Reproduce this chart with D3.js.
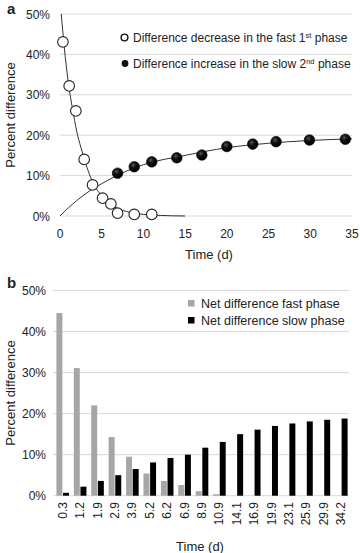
<!DOCTYPE html>
<html>
<head>
<meta charset="utf-8">
<title>Percent difference</title>
<script src="https://cdn.jsdelivr.net/npm/d3@7"></script>
<style>
  body { margin: 0; background: #fff; }
  text { font-family: "Liberation Sans", Arial, sans-serif; fill: #222; }
</style>
</head>
<body>
<svg id="svg"></svg>
<script>
var WIDTH = 360, HEIGHT = 553;

// panel a: measured points
var fastT = [0.35, 1.1, 1.9, 2.9, 3.9, 5.1, 6.1, 6.9, 8.9, 11];
var fastV = [0.431, 0.322, 0.26, 0.14, 0.077, 0.044, 0.03, 0.007, 0.004, 0.004];
var slowT = [6.9, 8.9, 11, 14, 17, 20, 23.1, 25.9, 29.9, 34.2];
var slowV = [0.106, 0.122, 0.134, 0.144, 0.151, 0.172, 0.178, 0.184, 0.188, 0.19];

// panel a: trend curves
var fastCurveT = [0.15, 0.5, 1, 1.5, 2, 2.5, 3, 4, 5, 6, 7, 8, 10, 12, 15];
var fastCurveV = [0.50, 0.42, 0.33, 0.265, 0.21, 0.17, 0.135, 0.08, 0.05, 0.03, 0.018, 0.011, 0.004, 0.0015, 0];
var slowCurveT = [0, 1, 2, 3, 4, 5, 7, 10, 15, 20, 25, 30, 35];
var slowCurveV = [0, 0.02, 0.038, 0.054, 0.068, 0.08, 0.102, 0.127, 0.15, 0.169, 0.18, 0.187, 0.191];

var xTicksA = [0, 5, 10, 15, 20, 25, 30, 35];
var yTicks = [0, 0.1, 0.2, 0.3, 0.4, 0.5];

// panel b: bars
var times = ["0.3","1.2","1.9","2.9","3.9","5.2","6.2","6.9","8.9","10.9","14.1","16.9","19.9","23.1","25.9","29.9","34.2"];
var netFast = [0.445, 0.311, 0.22, 0.143, 0.095, 0.054, 0.036, 0.026, 0.011, 0.0035, 0, 0, 0, 0, 0, 0, 0];
var netSlow = [0.007, 0.022, 0.036, 0.05, 0.065, 0.081, 0.092, 0.10, 0.117, 0.131, 0.15, 0.161, 0.17, 0.176, 0.181, 0.185, 0.188];

var svg = d3.select("#svg").attr("width", WIDTH).attr("height", HEIGHT);

var defs = svg.append("defs");
var grad = defs.append("radialGradient").attr("id", "ball")
    .attr("cx", "40%").attr("cy", "35%").attr("r", "60%");
grad.append("stop").attr("offset", "0%").attr("stop-color", "#555");
grad.append("stop").attr("offset", "45%").attr("stop-color", "#111");
grad.append("stop").attr("offset", "100%").attr("stop-color", "#000");

// ---------- panel a ----------
var xA = d3.scaleLinear().domain([0, 35]).range([60, 352]);
var yA = d3.scaleLinear().domain([0, 0.5]).range([216, 14]);

var gA = svg.append("g");
gA.selectAll("line.grid").data(yTicks).enter().append("line")
  .attr("x1", xA(0)).attr("x2", xA(35))
  .attr("y1", function(d){ return yA(d); }).attr("y2", function(d){ return yA(d); })
  .attr("stroke", "#d9d9d9").attr("stroke-width", 1);

gA.selectAll("text.ytick").data(yTicks).enter().append("text")
  .attr("x", 50).attr("y", function(d){ return yA(d) + 4.5; })
  .attr("text-anchor", "end").attr("font-size", "12px")
  .text(d3.format(".0%"));

gA.selectAll("text.xtick").data(xTicksA).enter().append("text")
  .attr("x", function(d){ return xA(d); }).attr("y", 238)
  .attr("text-anchor", "middle").attr("font-size", "12px")
  .text(function(d){ return d; });

gA.append("text").attr("x", 209).attr("y", 259).attr("text-anchor", "middle")
  .attr("font-size", "13px").text("Time (d)");
gA.append("text").attr("transform", "translate(15,115) rotate(-90)")
  .attr("text-anchor", "middle").attr("font-size", "13px").text("Percent difference");
gA.append("text").attr("x", 7).attr("y", 14).attr("font-size", "15px")
  .attr("font-weight", "bold").text("a");

var line = d3.line()
  .x(function(d){ return xA(d[0]); })
  .y(function(d){ return yA(d[1]); })
  .curve(d3.curveMonotoneX);

gA.append("path").datum(d3.zip(fastCurveT, fastCurveV)).attr("d", line)
  .attr("fill", "none").attr("stroke", "#333").attr("stroke-width", 1);
gA.append("path").datum(d3.zip(slowCurveT, slowCurveV)).attr("d", line)
  .attr("fill", "none").attr("stroke", "#333").attr("stroke-width", 1);

gA.selectAll("circle.slow").data(d3.zip(slowT, slowV)).enter().append("circle")
  .attr("cx", function(d){ return xA(d[0]); }).attr("cy", function(d){ return yA(d[1]); })
  .attr("r", 5.3).attr("fill", "url(#ball)").attr("stroke", "#000").attr("stroke-width", 0.6);

gA.selectAll("circle.fast").data(d3.zip(fastT, fastV)).enter().append("circle")
  .attr("cx", function(d){ return xA(d[0]); }).attr("cy", function(d){ return yA(d[1]); })
  .attr("r", 5.3).attr("fill", "#fff").attr("stroke", "#222").attr("stroke-width", 1.1);

// legend a
var legA = gA.append("g").attr("font-size", "12px");
legA.append("circle").attr("cx", 124.5).attr("cy", 37.5).attr("r", 3.4)
  .attr("fill", "#fff").attr("stroke", "#111").attr("stroke-width", 1.4);
legA.append("circle").attr("cx", 125).attr("cy", 63.5).attr("r", 3.4).attr("fill", "#111");
var t1 = legA.append("text").attr("x", 133).attr("y", 42);
t1.append("tspan").text("Difference decrease in the fast 1");
t1.append("tspan").attr("font-size", "7.5px").attr("dy", -4).text("st");
t1.append("tspan").attr("dy", 4).text(" phase");
var t2 = legA.append("text").attr("x", 133).attr("y", 68);
t2.append("tspan").text("Difference increase in the slow 2");
t2.append("tspan").attr("font-size", "7.5px").attr("dy", -4).text("nd");
t2.append("tspan").attr("dy", 4).text(" phase");

// ---------- panel b ----------
var yB = d3.scaleLinear().domain([0, 0.5]).range([495.7, 290.5]);
var x0 = d3.scaleBand().domain(times).range([54, 350]).paddingInner(0.2).paddingOuter(0.1);
var x1 = d3.scaleBand().domain(["fast", "slow"]).range([0, x0.bandwidth()]).padding(0.1);

var gB = svg.append("g");
gB.selectAll("line.grid").data(yTicks).enter().append("line")
  .attr("x1", 53).attr("x2", 349)
  .attr("y1", function(d){ return yB(d); }).attr("y2", function(d){ return yB(d); })
  .attr("stroke", "#d9d9d9").attr("stroke-width", 1);

gB.selectAll("text.ytick").data(yTicks).enter().append("text")
  .attr("x", 46).attr("y", function(d){ return yB(d) + 4.5; })
  .attr("text-anchor", "end").attr("font-size", "12px")
  .text(d3.format(".0%"));

var rows = times.map(function(t, i){ return { t: t, fast: netFast[i], slow: netSlow[i] }; });
var grp = gB.selectAll("g.cat").data(rows).enter().append("g")
  .attr("transform", function(d){ return "translate(" + x0(d.t) + ",0)"; });
grp.append("rect").attr("x", x1("fast")).attr("width", x1.bandwidth())
  .attr("y", function(d){ return yB(d.fast); })
  .attr("height", function(d){ return yB(0) - yB(d.fast); })
  .attr("fill", "#a6a6a6");
grp.append("rect").attr("x", x1("slow")).attr("width", x1.bandwidth())
  .attr("y", function(d){ return yB(d.slow); })
  .attr("height", function(d){ return yB(0) - yB(d.slow); })
  .attr("fill", "#000");

gB.selectAll("text.xtick").data(times).enter().append("text")
  .attr("transform", function(d){
    return "translate(" + (x0(d) + x0.bandwidth() / 2 + 4) + ",502) rotate(-90)";
  })
  .attr("text-anchor", "end").attr("font-size", "12px")
  .text(function(d){ return d; });

gB.append("text").attr("x", 200).attr("y", 551).attr("text-anchor", "middle")
  .attr("font-size", "13px").text("Time (d)");
gB.append("text").attr("transform", "translate(15,393) rotate(-90)")
  .attr("text-anchor", "middle").attr("font-size", "13px").text("Percent difference");
gB.append("text").attr("x", 7).attr("y", 288).attr("font-size", "15px")
  .attr("font-weight", "bold").text("b");

var legB = gB.append("g").attr("font-size", "12.5px");
legB.append("rect").attr("x", 188).attr("y", 300).attr("width", 6.5).attr("height", 6.5).attr("fill", "#a6a6a6");
legB.append("rect").attr("x", 188).attr("y", 317).attr("width", 6.5).attr("height", 6.5).attr("fill", "#000");
legB.append("text").attr("x", 201).attr("y", 308).text("Net difference fast phase");
legB.append("text").attr("x", 201).attr("y", 324.5).text("Net difference slow phase");
</script>
</body>
</html>
